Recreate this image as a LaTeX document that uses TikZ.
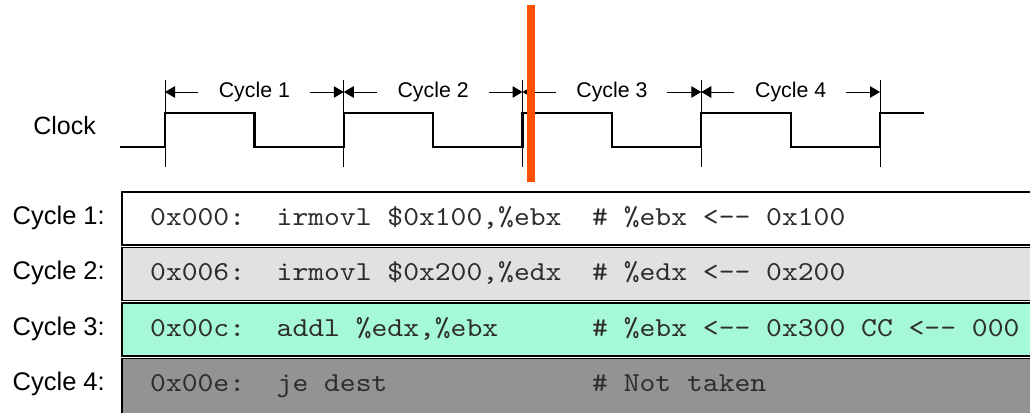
\documentclass[tikz,border=0pt]{standalone}
\usepackage{fontspec}
\setmainfont{Liberation Sans}
\newfontfamily\codefont{lmmono10-regular}[Extension=.otf, FakeStretch=1.1]
\usetikzlibrary{arrows.meta,calc}
\definecolor{orangeline}{RGB}{255,80,0}
\definecolor{rowgray}{RGB}{225,225,225}
\definecolor{rowmint}{RGB}{166,249,214}
\definecolor{rowdark}{RGB}{147,147,147}
\definecolor{monotext}{RGB}{45,45,45}
\begin{document}
\begin{tikzpicture}[x=1pt,y=-1pt,
  wave/.style={line width=2.2pt, line join=miter},
  tickline/.style={line width=0.8pt},
  dimarrow/.style={line width=1pt,-{Triangle[length=10pt,width=11.5pt]}},
  toplabel/.style={font=\fontsize{21.3}{25}\selectfont, inner sep=0pt, anchor=base},
  sidelabel/.style={font=\fontsize{25.5}{30}\selectfont, anchor=base east, inner sep=0pt},
  rowbox/.style={draw=black, line width=1.6pt, minimum height=53pt, minimum width=940pt, anchor=north west, inner sep=0pt},
  code/.style={font=\fontsize{27.4}{32}\selectfont\codefont, text=monotext, anchor=base west, inner sep=0pt},
]
\useasboundingbox (0,0) rectangle (1030,412);
\clip (0,0) rectangle (1030,412);

% clock label
\node[sidelabel, font=\fontsize{25}{30}\selectfont] (clock) at (96,134) {Clock};

% edge coordinates
\foreach \i/\x in {1/165,2/343.75,3/522.5,4/701.25,5/880}{
  \coordinate (t\i) at (\x,92);
  \coordinate (b\i) at (\x,97);
  \draw[tickline] (\x,80) -- (\x,167);
}

% waveform
\draw[wave] (120,147) -- (165,147) -- (165,113) -- (254.4,113) -- (254.4,147)
  -- (343.75,147) -- (343.75,113) -- (433.1,113) -- (433.1,147)
  -- (522.5,147) -- (522.5,113) -- (611.9,113) -- (611.9,147)
  -- (701.25,147) -- (701.25,113) -- (790.6,113) -- (790.6,147)
  -- (880,147) -- (880,113) -- (924,113);

% cycle dimension labels
\foreach \i/\j in {1/2,2/3,3/4,4/5}{
  \node[toplabel] (cy\i) at ($ (b\i)!0.5!(b\j) $) {Cycle \i};
  \coordinate (la\i) at ([xshift=33pt]t\i);
  \coordinate (ra\i) at ([xshift=-34pt]t\j);
  \draw[dimarrow] (la\i) -- (t\i);
  \draw[dimarrow] (ra\i) -- (t\j);
}

% rows
\node[rowbox, fill=white]   (row1) at (121,191) {};
\node[rowbox, fill=rowgray] (row2) at (121,246.5) {};
\node[rowbox, fill=rowmint] (row3) at (121,302) {};
\node[rowbox, fill=rowdark, minimum height=60pt] (row4) at (121,357.5) {};

\node[sidelabel] (l1) at (105,224) {Cycle 1:};
\node[sidelabel] (l2) at (105,279.5) {Cycle 2:};
\node[sidelabel] (l3) at (105,335) {Cycle 3:};
\node[sidelabel] (l4) at (105,390.5) {Cycle 4:};

\node[code] (a1) at (150,225) {0x000:};
\node[code] (i1) at (276.5,225) {irmovl \$0x100,\%ebx};
\node[code] (c1) at (592,225) {\# \%ebx <-{}- 0x100};

\node[code] (a2) at (150,280.5) {0x006:};
\node[code] (i2) at (276.5,280.5) {irmovl \$0x200,\%edx};
\node[code] (c2) at (592,280.5) {\# \%edx <-{}- 0x200};

\node[code] (a3) at (150,336) {0x00c:};
\node[code] (i3) at (276.5,336) {addl \%edx,\%ebx};
\node[code] (c3) at (592,336) {\# \%ebx <-{}- 0x300 CC <-{}- 000};

\node[code] (a4) at (150,391.5) {0x00e:};
\node[code] (i4) at (276.5,391.5) {je dest};
\node[code] (c4) at (592,391.5) {\# Not taken};

% orange marker
\draw[orangeline, line width=8pt] (531,5) -- (531,182);
\end{tikzpicture}
\end{document}
